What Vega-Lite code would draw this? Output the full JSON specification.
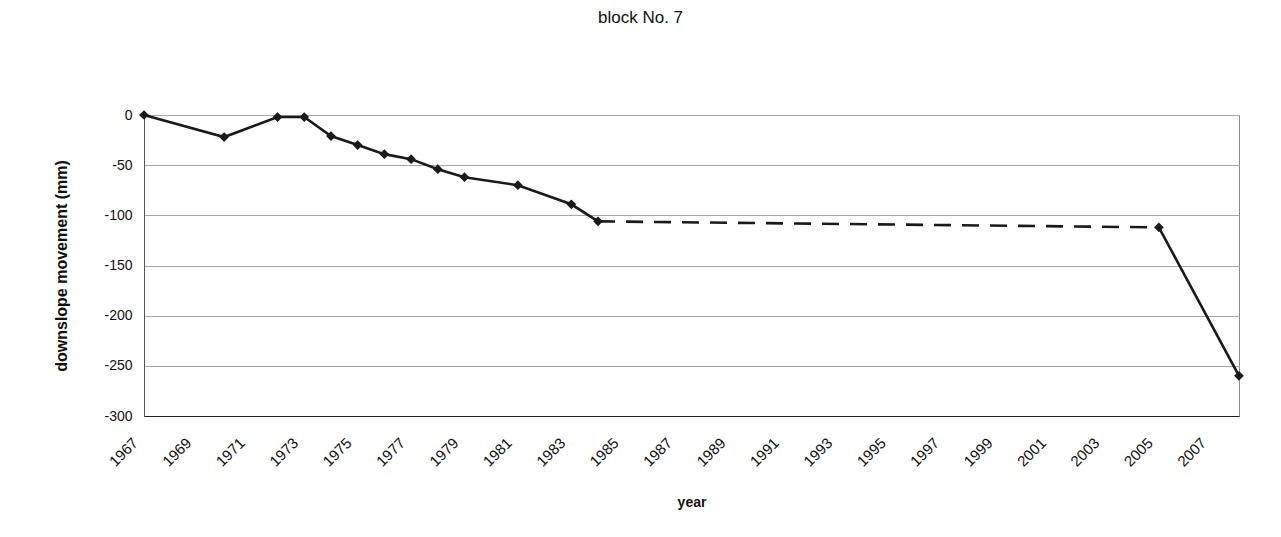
{
  "$schema": "https://vega.github.io/schema/vega-lite/v6.json",
  "width": 1095,
  "height": 301,
  "autosize": {"type": "none"},
  "padding": {"left": 144, "top": 115, "right": 42, "bottom": 121},
  "background": "white",
  "config": {
    "font": "Liberation Sans",
    "view": {"stroke": "#8c8c8c", "strokeWidth": 1}
  },
  "title": {
    "text": "block No. 7",
    "font": "Liberation Sans",
    "fontSize": 17,
    "fontWeight": "normal",
    "color": "#111111",
    "anchor": "middle",
    "frame": "group",
    "dx": -51,
    "offset": 81
  },
  "data": {
    "values": [
      {"year": 1967, "movement": 0},
      {"year": 1970, "movement": -22},
      {"year": 1972, "movement": -2},
      {"year": 1973, "movement": -2},
      {"year": 1974, "movement": -21},
      {"year": 1975, "movement": -30},
      {"year": 1976, "movement": -39},
      {"year": 1977, "movement": -44},
      {"year": 1978, "movement": -54},
      {"year": 1979, "movement": -62},
      {"year": 1981, "movement": -70},
      {"year": 1983, "movement": -89},
      {"year": 1984, "movement": -106},
      {"year": 2005, "movement": -112},
      {"year": 2008, "movement": -260}
    ]
  },
  "encoding": {
    "x": {
      "field": "year",
      "type": "quantitative",
      "scale": {"domain": [1967, 2008], "nice": false, "zero": false},
      "axis": {
        "title": "year",
        "values": [1967, 1969, 1971, 1973, 1975, 1977, 1979, 1981, 1983, 1985, 1987, 1989, 1991, 1993, 1995, 1997, 1999, 2001, 2003, 2005, 2007],
        "labelExpr": "'' + datum.value",
        "labelAngle": -45,
        "labelFontSize": 15,
        "labelColor": "#111111",
        "labelPadding": 19,
        "labelOffset": -14,
        "grid": false,
        "ticks": false,
        "domainColor": "#222222",
        "domainWidth": 1.2,
        "titleFontSize": 14,
        "titleFontWeight": "bold",
        "titleColor": "#111111",
        "titlePadding": 26,
        "labelOverlap": false
      }
    },
    "y": {
      "field": "movement",
      "type": "quantitative",
      "scale": {"domain": [-300, 0], "nice": false},
      "axis": {
        "title": "downslope movement (mm)",
        "values": [-300, -250, -200, -150, -100, -50, 0],
        "labelExpr": "'' + datum.value",
        "labelFontSize": 14,
        "labelColor": "#111111",
        "labelPadding": 12,
        "ticks": false,
        "grid": true,
        "gridColor": "#a8a8a8",
        "gridWidth": 1,
        "domainColor": "#555555",
        "titleFontSize": 16,
        "titleFontWeight": "bold",
        "titleColor": "#111111",
        "titlePadding": 34
      }
    }
  },
  "layer": [
    {
      "transform": [{"filter": "datum.year <= 1984"}],
      "mark": {"type": "line", "color": "#1a1a1a", "strokeWidth": 2.6}
    },
    {
      "transform": [{"filter": "datum.year >= 1984 && datum.year <= 2005"}],
      "mark": {"type": "line", "color": "#1a1a1a", "strokeWidth": 2.6, "strokeDash": [17, 11]}
    },
    {
      "transform": [{"filter": "datum.year >= 2005"}],
      "mark": {"type": "line", "color": "#1a1a1a", "strokeWidth": 2.6}
    },
    {
      "mark": {"type": "point", "shape": "diamond", "filled": true, "color": "#1a1a1a", "size": 95, "opacity": 1}
    }
  ]
}
